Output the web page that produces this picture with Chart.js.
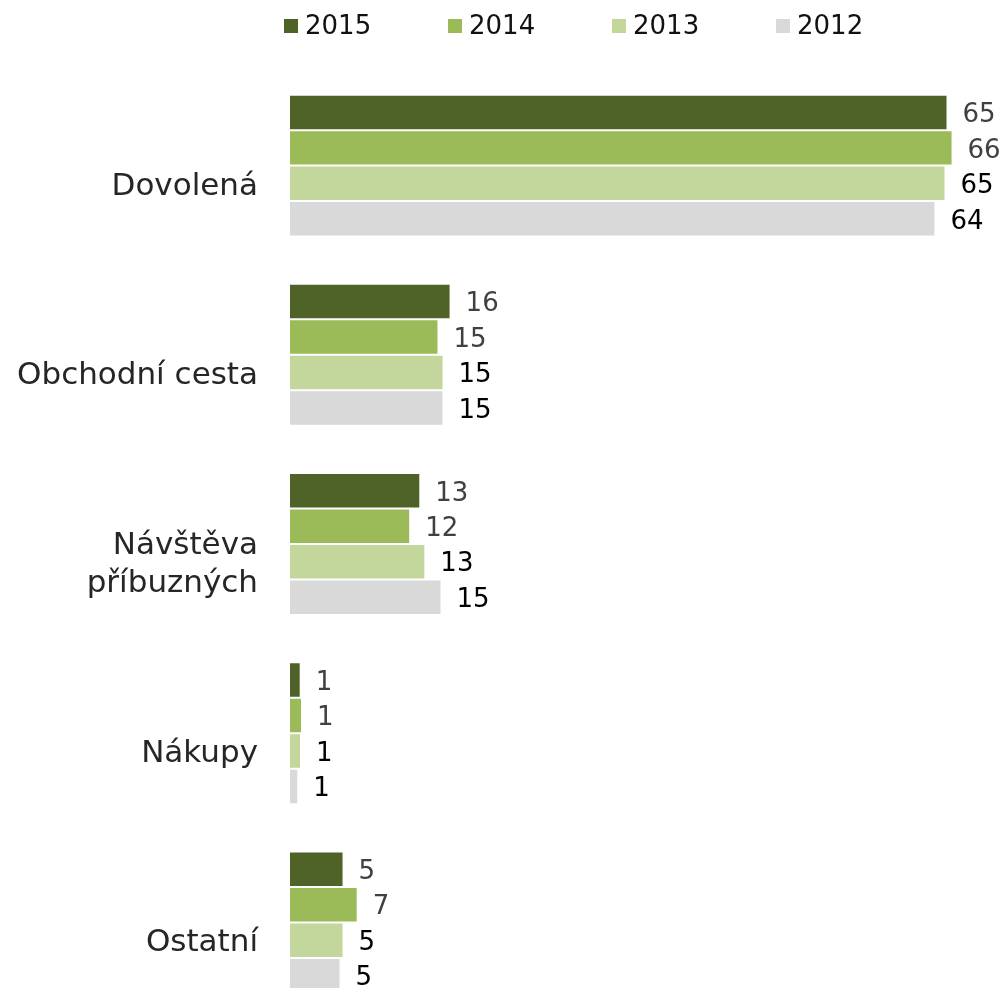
<!DOCTYPE html>
<html lang="cs">
<head>
<meta charset="utf-8">
<title>Účel cesty</title>
<script src="https://cdn.jsdelivr.net/npm/chart.js@4.4.1/dist/chart.umd.min.js"></script>
<style>
    html, body {
        margin: 0;
        padding: 0;
        background: #ffffff;
        overflow: hidden;
    }
    #barChart {
        display: block;
    }
</style>
</head>
<body>
<canvas id="barChart" width="1005" height="1017"></canvas>
<script>
// ==================== DONNÉES ====================

// CATÉGORIES (AXE VERTICAL)
const categories = [
    "Dovolená",
    "Obchodní cesta",
    ["Návštěva", "příbuzných"],
    "Nákupy",
    "Ostatní"
];

// ANNÉES DE LA LÉGENDE
const annees = ["2015", "2014", "2013", "2012"];

const valeurs2015 = [65.1, 15.9, 12.9, 1.06, 5.3];
const valeurs2014 = [65.6, 14.7, 11.9, 1.19, 6.7];
const valeurs2013 = [64.9, 15.2, 13.4, 1.09, 5.3];
const valeurs2012 = [63.9, 15.2, 15.0, 0.82, 5.0];

// COULEURS DES SÉRIES
const couleurs = ["#4f6228", "#9bbb59", "#c3d69b", "#d9d9d9"];
// COULEURS DES ÉTIQUETTES DE VALEUR
const couleursEtiquettes = ["#404040", "#404040", "#000000", "#000000"];

const police = "'DejaVu Sans', Verdana, sans-serif";

// ==================== PLUGIN : ÉTIQUETTES DE VALEUR ====================
const etiquettesValeurs = {
    id: "etiquettesValeurs",
    afterDatasetsDraw(chart) {
        const ctx = chart.ctx;
        ctx.save();
        ctx.font = "26px " + police;
        ctx.textAlign = "left";
        ctx.textBaseline = "middle";

        chart.data.datasets.forEach((dataset, i) => {
            const meta = chart.getDatasetMeta(i);
            ctx.fillStyle = couleursEtiquettes[i];
            meta.data.forEach((barre, j) => {
                ctx.fillText(String(Math.round(dataset.data[j])), barre.x + 15, barre.y + 3);
            });
        });
        ctx.restore();
    }
};

// ==================== PLUGIN : LÉGENDE EN HAUT ====================
const legendeHaut = {
    id: "legendeHaut",
    afterDraw(chart) {
        const ctx = chart.ctx;
        const pas = 164;
        const depart = chart.chartArea.left - 6;
        const yMilieu = 26;

        ctx.save();
        ctx.font = "26px " + police;
        ctx.textAlign = "left";
        ctx.textBaseline = "middle";

        chart.data.datasets.forEach((dataset, i) => {
            const x = depart + i * pas;
            ctx.fillStyle = dataset.backgroundColor;
            ctx.fillRect(x, yMilieu - 7, 14, 14);
            ctx.fillStyle = "#111111";
            ctx.fillText(dataset.label, x + 21, yMilieu + 1);
        });
        ctx.restore();
    }
};

// ==================== GRAPHIQUE À BARRES HORIZONTALES ====================
const series = [valeurs2015, valeurs2014, valeurs2013, valeurs2012];

const graphique = new Chart(document.getElementById("barChart"), {
    type: "bar",
    data: {
        labels: categories,
        datasets: series.map((valeurs, i) => ({
            label: annees[i],
            data: valeurs,
            backgroundColor: couleurs[i],
            borderColor: "rgba(255,255,255,0.75)",
            borderWidth: 1,
            categoryPercentage: 0.75,
            barPercentage: 1.0
        }))
    },
    options: {
        indexAxis: "y",
        responsive: false,
        maintainAspectRatio: false,
        animation: false,
        devicePixelRatio: 1,

        layout: {
            padding: {
                top: 71,
                right: 8,
                bottom: 0,
                left: 0
            }
        },

        plugins: {
            legend: { display: false },
            tooltip: { enabled: false }
        },

        // CONFIGURATION DES AXES
        scales: {
            x: {
                display: false,
                min: 0,
                max: 70
            },
            y: {
                // LARGEUR FIXE DE L'AXE, SANS MARGE HAUT/BAS
                afterFit(axe) {
                    axe.width = 290;
                    axe.paddingTop = 0;
                    axe.paddingBottom = 0;
                },
                grid: {
                    display: false,
                    drawTicks: false
                },
                border: { display: false },
                ticks: {
                    padding: 32,
                    labelOffset: 21,
                    color: "#262626",
                    font: {
                        family: police,
                        size: 31,
                        lineHeight: 1.25
                    }
                }
            }
        }
    },
    plugins: [etiquettesValeurs, legendeHaut]
});
</script>
</body>
</html>
